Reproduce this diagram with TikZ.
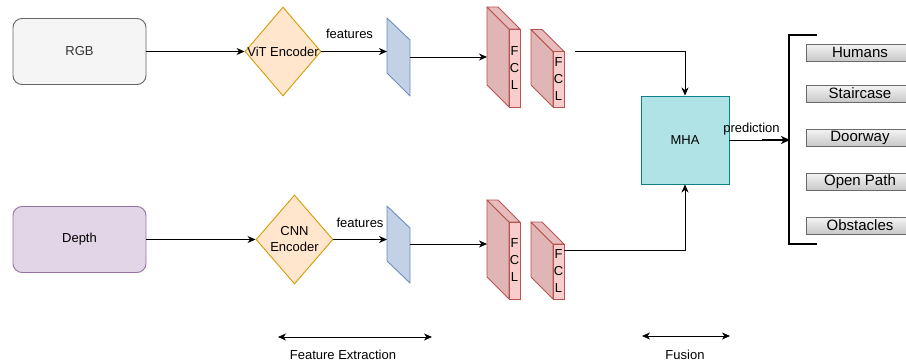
\documentclass[tikz,border=0pt]{standalone}
\usepackage{fontspec}
\setmainfont{Liberation Sans}
\usetikzlibrary{arrows.meta,shapes.geometric}
\definecolor{rgbfill}{HTML}{F5F5F5}
\definecolor{rgbdraw}{HTML}{666666}
\definecolor{txtgray}{HTML}{333333}
\definecolor{depthfill}{HTML}{E1D5E7}
\definecolor{depthdraw}{HTML}{9673A6}
\definecolor{dmfill}{HTML}{FFE6CC}
\definecolor{dmdraw}{HTML}{D79B00}
\definecolor{trapfill}{HTML}{C3D1E6}
\definecolor{trapdraw}{HTML}{6C8EBF}
\definecolor{fclside}{HTML}{E0B5B5}
\definecolor{fclfront}{HTML}{F8CECC}
\definecolor{fcldraw}{HTML}{B85450}
\definecolor{mhafill}{HTML}{B0E3E6}
\definecolor{mhadraw}{HTML}{0E8088}
\definecolor{lbtop}{HTML}{F4F4F4}
\definecolor{lbbot}{HTML}{C8C8C8}
\definecolor{lbdraw}{HTML}{6A6A6A}
% #1 x0, #2 y0 (top-left back), #3 bottom y of front face, #4 node name
\newcommand{\fclbox}[4]{%
  \filldraw[fill=fclside,draw=fcldraw,line width=0.9pt,line join=round]
    (#1,#2) -- ({#1+22},{#2+22}) -- ({#1+22},#3) -- (#1,{#3-22}) -- cycle;
  \filldraw[fill=fclside!70!fclfront,draw=fcldraw,line width=0.9pt,line join=round]
    (#1,#2) -- ({#1+11},#2) -- ({#1+33},{#2+22}) -- ({#1+22},{#2+22}) -- cycle;
  \filldraw[fill=fclfront,draw=fcldraw,line width=0.9pt]
    ({#1+22},{#2+22}) rectangle ({#1+33},#3);
  \node[fcltext] (#4) at ({#1+27.5},{(#2+22+#3)/2}) {F\\C\\L};
}
\begin{document}
\begin{tikzpicture}[x=1pt,y=-1pt,
  font=\fontsize{13}{16}\selectfont,
  arr/.style={-{Stealth[length=8pt,width=7pt,inset=2.5pt]},line width=0.9pt},
  conn/.style={line width=0.9pt},
  dbl/.style={{Stealth[length=8pt,width=7pt,inset=2.5pt]}-{Stealth[length=8pt,width=7pt,inset=2.5pt]},line width=0.9pt},
  inbox/.style={draw,rounded corners=9pt,minimum width=133pt,minimum height=66pt,line width=0.9pt},
  dmd/.style={diamond,draw=dmdraw,fill=dmfill,line width=0.9pt,inner sep=0pt},
  trap/.style={fill=trapfill,draw=trapdraw,line width=0.9pt,line join=round},
  fcltext/.style={inner sep=0pt,align=center,font=\fontsize{13}{17}\selectfont},
  lbl/.style={inner sep=1pt},
  cls/.style={draw=lbdraw,top color=lbtop,bottom color=lbbot,minimum width=108pt,minimum height=17pt,inner sep=0pt,line width=0.9pt,font=\fontsize{15}{17}\selectfont},
]
\useasboundingbox (0,0) rectangle (906,364);

% inputs
\node[inbox,fill=rgbfill,draw=rgbdraw,text=txtgray] (rgb) at (79.5,51.5) {RGB};
\node[inbox,fill=depthfill,draw=depthdraw] (depth) at (79.5,239.5) {Depth};

% encoders
\node[dmd,minimum width=76pt,minimum height=89pt] (vit) at (283,51.5) {};
\node[lbl] (vittxt) at (283,51.5) {ViT Encoder};
\node[dmd,minimum width=77pt,minimum height=89pt] (cnn) at (294.5,239.5) {};
\node[lbl,align=center] (cnntxt) at (294.5,239.5) {CNN\\Encoder};

% feature maps
\filldraw[trap] (387,18) -- (410,40) -- (410,96) -- (387,73) -- cycle;
\coordinate (t1in) at (387,51.5);
\coordinate (t1out) at (410,57);
\filldraw[trap] (387,206) -- (410,228) -- (410,283) -- (387,261) -- cycle;
\coordinate (t2in) at (387,239.5);
\coordinate (t2out) at (410,244);

% FCL blocks
\fclbox{487}{7}{107}{fclA}
\fclbox{531}{29.5}{107}{fclB}
\fclbox{487}{200}{299}{fclC}
\fclbox{531}{222}{299}{fclD}
\coordinate (a1in) at (487,57);
\coordinate (a2in) at (487,244);
\coordinate (b1out) at (575,51.5);
\coordinate (b2out) at (564,250);

% MHA
\node[draw=mhadraw,fill=mhafill,minimum width=88pt,minimum height=88pt,line width=0.9pt] (mha) at (685,140) {MHA};

% connectors top
\draw[arr] (rgb.east) -- (vit.west);
\draw[arr] (vit.east) -- (t1in);
\node[lbl] (f1) at (349.5,34) {features};
\draw[arr] (t1out) -- (a1in);
\draw[arr] (b1out) -- (b1out -| mha.north) -- (mha.north);
% connectors bottom
\draw[arr] (depth.east) -- (cnn.west);
\draw[arr] (cnn.east) -- (t2in);
\node[lbl] (f2) at (360,222.5) {features};
\draw[arr] (t2out) -- (a2in);
\draw[arr] (b2out) -- (b2out -| mha.south) -- (mha.south);

% prediction
\coordinate (pmid) at (762,140);
\coordinate (pend) at (790,140);
\draw[conn] (mha.east) -- (pmid);
\draw[-{Stealth[length=9pt,width=8pt,inset=2.5pt]},line width=1.8pt] (pmid) -- (pend);
\node[lbl] (pred) at (751.5,129) {prediction};

% bracket
\coordinate (bt) at (817,35);
\coordinate (bb) at (817,244);
\draw[line width=2.2pt] (bt) -- (789,35) -- (789,244) -- (bb);

% classes
\node[cls] (c1) at (860,52.5) {Humans};
\node[cls] (c2) at (860,93.5) {Staircase};
\node[cls] (c3) at (860,137.5) {Doorway};
\node[cls] (c4) at (860,181.5) {Open Path};
\node[cls] (c5) at (860,225.5) {Obstacles};

% stages
\coordinate (s1a) at (278,337);
\coordinate (s1b) at (432,337);
\draw[dbl] (s1a) -- (s1b);
\node[lbl] (s1) at (343,355) {Feature Extraction};
\coordinate (s2a) at (642,336);
\coordinate (s2b) at (730,336);
\draw[dbl] (s2a) -- (s2b);
\node[lbl] (s2) at (685,355) {Fusion};
\end{tikzpicture}
\end{document}
